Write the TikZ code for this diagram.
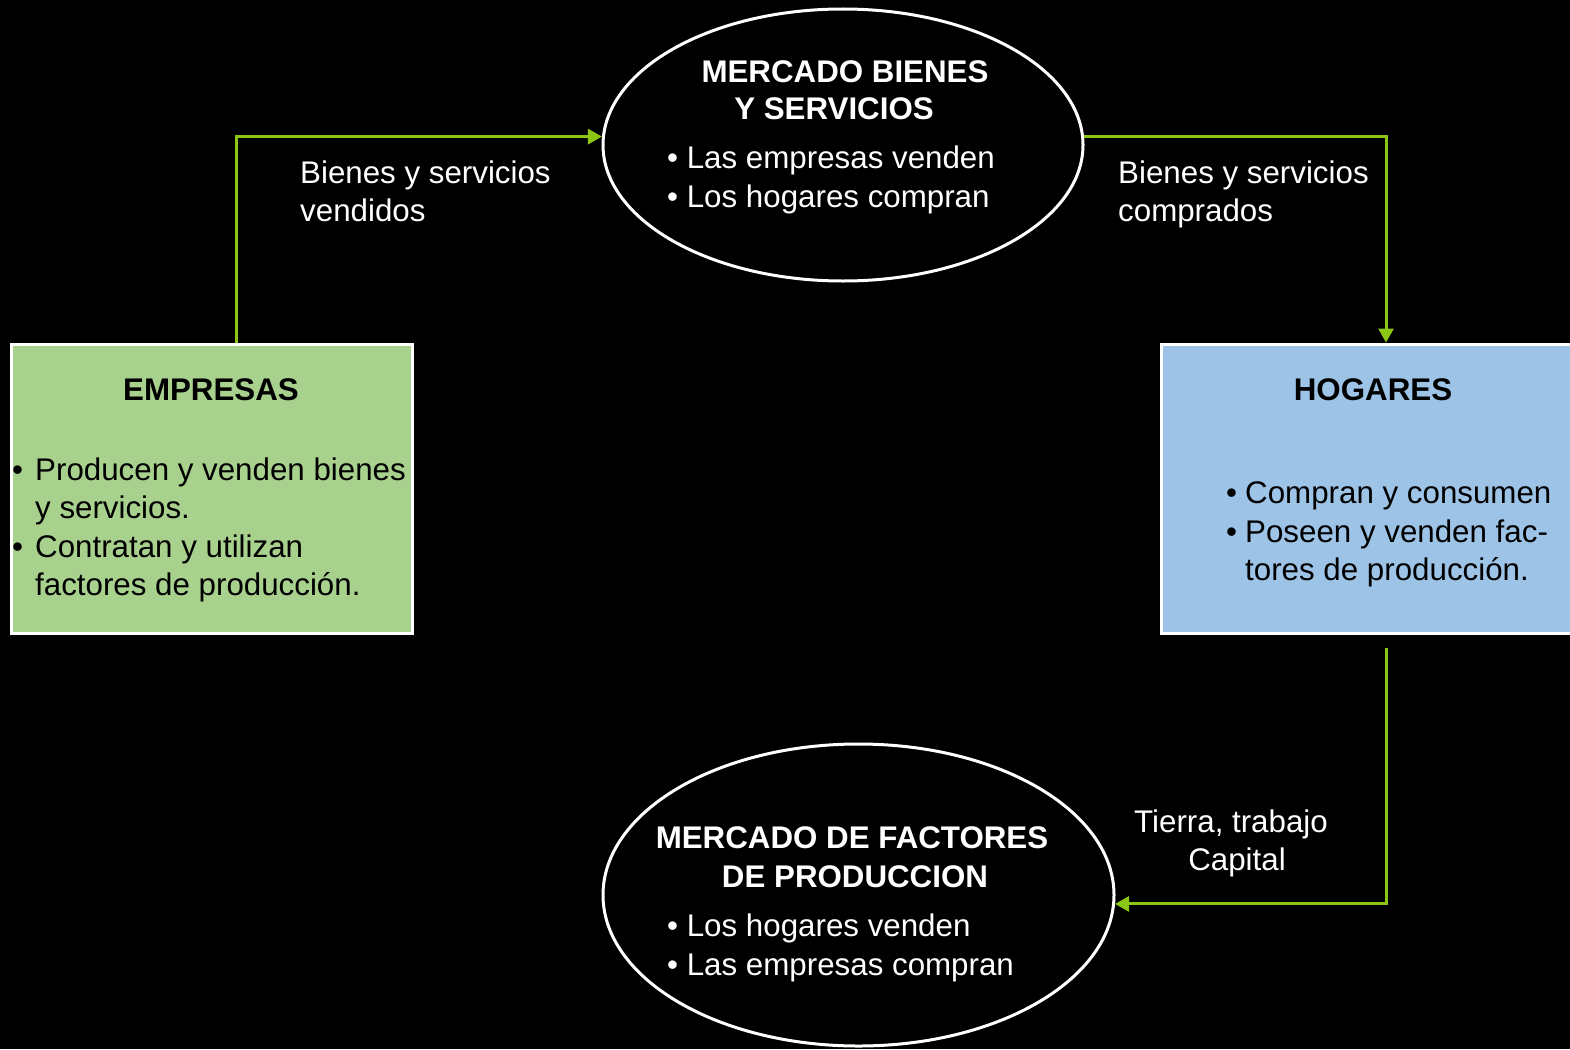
\documentclass[tikz,border=0pt]{standalone}
\usepackage{fontspec}
\setmainfont{Liberation Sans}
\usetikzlibrary{shapes.geometric,arrows.meta}
\definecolor{flowgreen}{RGB}{140,198,20}
\definecolor{empfill}{RGB}{169,209,142}
\definecolor{hogfill}{RGB}{157,195,230}
\tikzset{
  txt/.style={inner sep=0pt, font=\fontsize{31.3}{38.5}\selectfont},
  wtxt/.style={txt, text=white, anchor=base west},
  wtitle/.style={txt, text=white, anchor=base, font=\fontsize{31.3}{38.5}\selectfont\bfseries},
  btitle/.style={txt, text=black, anchor=base, font=\fontsize{31.3}{38.5}\selectfont\bfseries},
  btxt/.style={txt, text=black, anchor=base west},
  market/.style={ellipse, draw=white, line width=3pt, inner sep=0pt},
  agent/.style={rectangle, draw=white, line width=3pt, inner sep=0pt},
  flow/.style={draw=flowgreen, line width=3pt, -{Triangle[length=14pt,width=15pt]}},
}
\begin{document}
\begin{tikzpicture}[x=1pt,y=-1pt]
\useasboundingbox (0,0) rectangle (1570,1049);
\clip (0,0) rectangle (1570,1049);
\fill[black] (0,0) rectangle (1570,1049);

% markets
\node[market, minimum width=480pt, minimum height=272pt] (mb) at (843,145) {};
\node[market, minimum width=511pt, minimum height=302pt] (mf) at (858.5,895) {};

% agents
\node[agent, fill=empfill, minimum width=401pt, minimum height=289pt] (emp) at (211.5,488.5) {};
\node[agent, fill=hogfill, minimum width=419pt, minimum height=289pt] (hog) at (1370.5,488.5) {};

% market texts
\node[wtitle] (mbt1) at (845,82) {MERCADO BIENES};
\node[wtitle] (mbt2) at (834,119) {Y SERVICIOS};
\node[wtxt] (mbb1) at (667,168) {• Las empresas venden};
\node[wtxt] (mbb2) at (667,207) {• Los hogares compran};

\node[wtitle] (mft1) at (852,848) {MERCADO DE FACTORES};
\node[wtitle] (mft2) at (855,887) {DE PRODUCCION};
\node[wtxt] (mfb1) at (667,936) {• Los hogares venden};
\node[wtxt] (mfb2) at (667,975) {• Las empresas compran};

% empresas texts
\node[btitle] (empt) at (211,400) {EMPRESAS};
\node[btxt] (empd1) at (12,480) {•};
\node[btxt] (emp1) at (35,480) {Producen y venden bienes};
\node[btxt] (emp2) at (35,518) {y servicios.};
\node[btxt] (empd2) at (12,557) {•};
\node[btxt] (emp3) at (35,557) {Contratan y utilizan};
\node[btxt] (emp4) at (35,595) {factores de producción.};

% hogares texts
\node[btitle] (hogt) at (1373,400) {HOGARES};
\node[btxt] (hogd1) at (1226,503) {•};
\node[btxt] (hog1) at (1245,503) {Compran y consumen};
\node[btxt] (hogd2) at (1226,542) {•};
\node[btxt] (hog2) at (1245,542) {Poseen y venden fac-};
\node[btxt] (hog3) at (1245,580) {tores de producción.};

% flow labels
\node[wtxt] (l1a) at (300,183) {Bienes y servicios};
\node[wtxt] (l1b) at (300,221) {vendidos};
\node[wtxt] (l2a) at (1118,183) {Bienes y servicios};
\node[wtxt] (l2b) at (1118,221) {comprados};
\node[txt, text=white, anchor=base] (l3a) at (1231,832) {Tierra, trabajo};
\node[txt, text=white, anchor=base] (l3b) at (1237,870) {Capital};

% flows
\coordinate (h3) at (1386,648);
\draw[flow] ([xshift=24.5pt]emp.north) |- (mb.178);
\draw[flow] (mb.2) -| ([xshift=15.5pt]hog.north);
\draw[flow] (h3) |- (mf.358);
\end{tikzpicture}
\end{document}
